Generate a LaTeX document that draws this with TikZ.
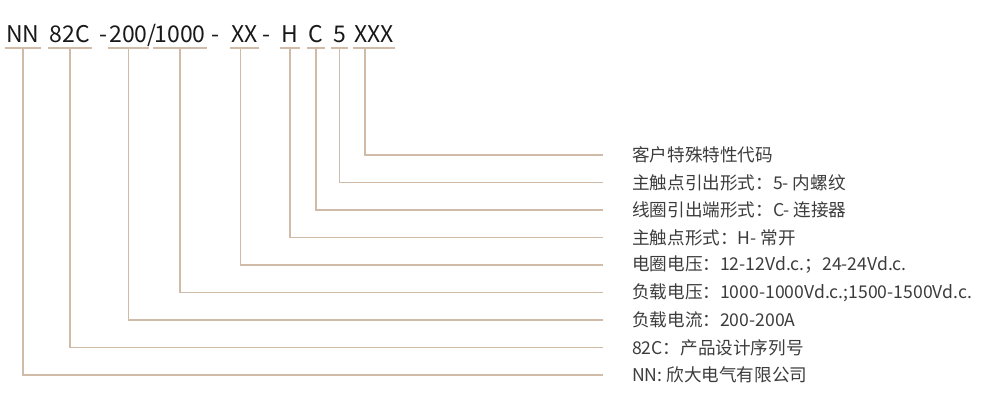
\documentclass[tikz,border=0pt]{standalone}
\usepackage{fontspec}
\setmainfont{Noto Sans CJK SC}
\usepackage{tikz}
\usetikzlibrary{positioning}
\definecolor{leadcol}{RGB}{208,186,168}
\definecolor{labelcol}{RGB}{60,60,60}
\tikzset{
  code/.style={anchor=base,inner xsep=1.5pt,inner ysep=0pt,
    font=\fontsize{23}{26}\selectfont,text=black!90},
  note/.style={anchor=west,inner sep=0pt,
    font=\fontsize{17.6}{20}\selectfont,text=labelcol},
  lead/.style={draw=leadcol,line width=1.4pt}
}

\begin{document}
\begin{tikzpicture}[x=1pt,y=-1pt]
    \useasboundingbox (0,0) rectangle (990,407);
    % model code
    \node[code] (c1) at (23,42) {NN};
    \node[code] (c2) at (70,42) {82C};
    \node[code] (s1) at (103,42) {-};
    \node[code] (c3) at (128.5,42) {200};
    \node[code] (s2) at (152,42) {/};
    \node[code] (c4) at (180,42) {1000};
    \node[code] (s3) at (215,42) {-};
    \node[code] (c5) at (244.5,42) {XX};
    \node[code] (s4) at (266,42) {-};
    \node[code] (c6) at (290,42) {H};
    \node[code] (c7) at (316,42) {C};
    \node[code] (c8) at (339.5,42) {5};
    \node[code] (c9) at (374,42) {XXX};

    % meanings
    \node[note] (d1) at (632,155) {客户特殊特性代码};
    \node[note] (d2) at (632,182.5) {主触点引出形式：5- 内螺纹};
    \node[note] (d3) at (632,210) {线圈引出端形式：C- 连接器};
    \node[note] (d4) at (632,237.5) {主触点形式：H- 常开};
    \node[note] (d5) at (632,265) {电圈电压：12-12Vd.c.；24-24Vd.c.};
    \node[note] (d6) at (632,292.5) {负载电压：1000-1000Vd.c.;1500-1500Vd.c.};
    \node[note] (d7) at (632,320) {负载电流：200-200A};
    \node[note] (d8) at (632,347.5) {82C：产品设计序列号};
    \node[note] (d9) at (632,375) {NN: 欣大电气有限公司};

    % underlines
    \draw[lead] ([yshift=-6pt]c1.base west) -- ([yshift=-6pt]c1.base east);
    \draw[lead] ([yshift=-6pt]c2.base west) -- ([yshift=-6pt]c2.base east);
    \draw[lead] ([yshift=-6pt]c3.base west) -- ([yshift=-6pt]c3.base east);
    \draw[lead] ([yshift=-6pt]c4.base west) -- ([yshift=-6pt]c4.base east);
    \draw[lead] ([yshift=-6pt]c5.base west) -- ([yshift=-6pt]c5.base east);
    \draw[lead] ([yshift=-6pt]c6.base west) -- ([yshift=-6pt]c6.base east);
    \draw[lead] ([yshift=-6pt]c7.base west) -- ([yshift=-6pt]c7.base east);
    \draw[lead] ([yshift=-6pt]c8.base west) -- ([yshift=-6pt]c8.base east);
    \draw[lead] ([yshift=-6pt]c9.base west) -- ([yshift=-6pt]c9.base east);

    % leaders
    \draw[lead] ([yshift=-6pt]c1.base) |- ([xshift=-29pt]d9.west);
    \draw[lead] ([yshift=-6pt]c2.base) |- ([xshift=-29pt]d8.west);
    \draw[lead] ([yshift=-6pt]c3.base) |- ([xshift=-29pt]d7.west);
    \draw[lead] ([yshift=-6pt]c4.base) |- ([xshift=-29pt]d6.west);
    \draw[lead] ([yshift=-6pt,xshift=-4pt]c5.base) |- ([xshift=-29pt]d5.west);
    \draw[lead] ([yshift=-6pt]c6.base) |- ([xshift=-29pt]d4.west);
    \draw[lead] ([yshift=-6pt]c7.base) |- ([xshift=-29pt]d3.west);
    \draw[lead] ([yshift=-6pt]c8.base) |- ([xshift=-29pt]d2.west);
    \draw[lead] ([yshift=-6pt,xshift=-9pt]c9.base) |- ([xshift=-29pt]d1.west);
  \end{tikzpicture}
\end{document}
